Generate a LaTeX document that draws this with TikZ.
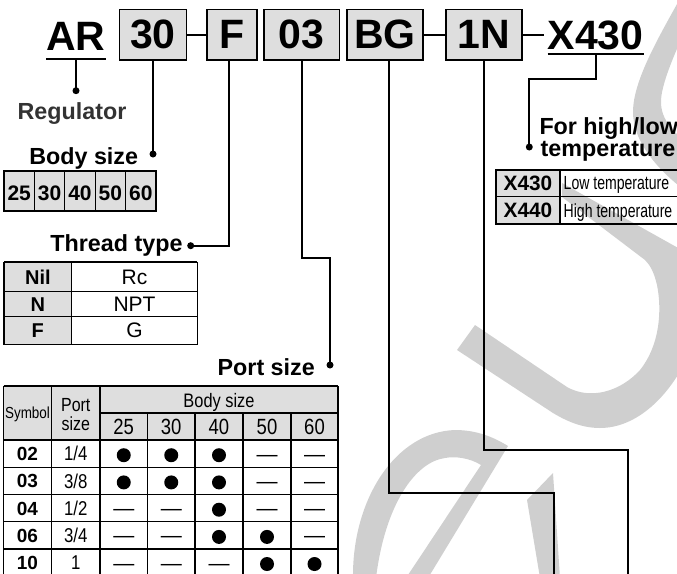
\documentclass[tikz,border=0pt]{standalone}
\usepackage{fontspec}
\setmainfont{Liberation Sans}
\newfontfamily\narrowfont[FakeStretch=0.84]{Liberation Sans}
\newfontfamily\tightfont[FakeStretch=0.74]{Liberation Sans}
\definecolor{boxgray}{gray}{0.87}
\definecolor{markgray}{gray}{0.81}
\definecolor{labelgray}{gray}{0.2}
\tikzset{
  lead/.style={line width=1.7pt},
  rule/.style={line width=1.1pt},
  toprule/.style={line width=2pt},
  wmark/.style={fill=markgray},
  codebox/.style={draw, line width=1.7pt, fill=boxgray, minimum height=50.5pt, inner sep=0pt, font=\bfseries\fontsize{41}{41}\selectfont},
  codetxt/.style={inner sep=0pt, font=\bfseries\fontsize{41}{41}\selectfont},
  head/.style={inner sep=0pt, font=\bfseries\fontsize{23.3}{24}\selectfont},
  numcell/.style={inner sep=0pt, text height=15pt, text depth=0pt, font=\bfseries\fontsize{21}{21}\selectfont},
  keycell/.style={inner sep=0pt, text height=14.3pt, text depth=0pt, font=\bfseries\fontsize{20}{20}\selectfont},
  valcell/.style={inner sep=0pt, text height=15pt, text depth=0pt, font=\fontsize{21}{21}\selectfont},
  symcell/.style={inner sep=0pt, text height=13.6pt, text depth=0pt, font=\bfseries\fontsize{19}{19}\selectfont},
  portcell/.style={inner sep=0pt, text height=14.3pt, text depth=0pt, font=\narrowfont\fontsize{20}{20}\selectfont},
  headcell/.style={inner sep=0pt, text height=14pt, text depth=0pt, font=\narrowfont\fontsize{19.5}{19}\selectfont},
  sizecell/.style={inner sep=0pt, text height=15.8pt, text depth=0pt, font=\narrowfont\fontsize{22}{22}\selectfont},
  tempkey/.style={inner sep=0pt, text height=14.9pt, text depth=0pt, font=\bfseries\fontsize{20.8}{21}\selectfont},
  tempcell/.style={inner sep=0pt, text height=13.6pt, text depth=0pt, font=\tightfont\fontsize{19}{19}\selectfont},
}
\begin{document}
\begin{tikzpicture}[x=1pt,y=-1pt]
                \useasboundingbox (0,0) rectangle (677,573);
                \clip (0,0) rectangle (677,573);
                % watermark
                \fill[wmark] (682,-5) .. controls (660,35) and (633,80) .. (633,112) .. controls (633,140) and (655,170) .. (695,198) -- (695,148) .. controls (675,135) and (660,120) .. (661,100) .. controls (662,80) and (680,40) .. (700,0) -- cycle;
                \fill[wmark] (562,183) -- (705,263) -- (700,320) .. controls (690,370) and (650,428) .. (600,428) .. controls (583,428) and (568,422) .. (553,413) -- (457,350) -- (475,325) -- (567,387) .. controls (590,400) and (620,392) .. (640,370) .. controls (660,345) and (662,310) .. (657,285) .. controls (654,272) and (650,265) .. (645,260) -- (562,197) -- cycle;
                \fill[wmark] (353,578) .. controls (352,500) and (395,432) .. (455,430) .. controls (478,430) and (495,438) .. (508,446) -- (428,578) -- (406,578) -- (481,465) .. controls (470,458) and (455,456) .. (445,458) .. controls (415,462) and (385,505) .. (376,578) -- cycle;
                \fill[wmark] (527,500) -- (553,473) -- (560,578) -- (540,578) -- cycle;
                % part number
                \node[codetxt, anchor=base] (ar) at (76,50.5) {AR};
                \node[codebox, minimum width=67pt] (b30) at (153,34.75) {30};
                \node[codebox, minimum width=50pt] (bF) at (232.3,34.75) {F};
                \node[codebox, minimum width=75.4pt] (b03) at (301.7,34.75) {03};
                \node[codebox, minimum width=76.6pt] (bBG) at (385,34.75) {BG};
                \node[codebox, minimum width=75.7pt] (b1N) at (483.9,34.75) {1N};
                \node[codetxt, anchor=base] (x430) at (595.7,49.5) {X430};
                \draw[lead] ([yshift=-8.3pt]ar.base west) -- ([yshift=-8.3pt]ar.base east);
                \draw[lead] ([yshift=-4.5pt]x430.base west) -- ([yshift=-4.5pt]x430.base east);
                \coordinate (arU) at ([yshift=-8.3pt]ar.base);
                \coordinate (x430U) at ([yshift=-4.5pt]x430.base);
                \coordinate (x430L) at (544,34.75);
                \draw[lead] (b30.east) -- (bF.west);
                \draw[lead] (bBG.east) -- (b1N.west);
                \draw[lead] (b1N.east) -- (x430L);
                % leaders
                \coordinate (dReg) at (76,90.7);
                \coordinate (dBody) at (153,154);
                \coordinate (dThread) at (190.7,245.7);
                \coordinate (kPort) at (330,258);
                \coordinate (dPort) at (330,365);
                \coordinate (kBG) at (554.3,492.7);
                \coordinate (eBG) at (554.3,585);
                \coordinate (k1N) at (628.3,450.3);
                \coordinate (e1N) at (628.3,585);
                \coordinate (kTemp) at (529.3,79);
                \coordinate (dTemp) at (529.3,147);
                \draw[lead] (arU) -- (dReg);
                \draw[lead] (b30.south) -- (dBody);
                \draw[lead] ([xshift=-3.6pt]bF.south) |- (dThread);
                \draw[lead] (b03.south) |- (kPort) -- (dPort);
                \draw[lead] ([xshift=4pt]bBG.south) |- (kBG) -- (eBG);
                \draw[lead] (b1N.south) |- (k1N) -- (e1N);
                \draw[lead] (x430U) |- (kTemp) -- (dTemp);
                \fill (dReg) circle (3.5pt);
                \fill (dBody) circle (3.5pt);
                \fill (dThread) circle (3.5pt);
                \fill (dPort) circle (3.5pt);
                \fill (dTemp) circle (3.5pt);
                % headings
                \node[head, anchor=base, text=labelgray] (tReg) at (72,119) {Regulator};
                \node[head, anchor=base east] (tBody) at (138.3,164.3) {Body size};
                \node[head, anchor=base east] (tThread) at (182.7,251.7) {Thread type};
                \node[head, anchor=base east] (tPort) at (315,375) {Port size};
                \node[head, anchor=base west] (tTempA) at (539.3,134.5) {For high/low};
                \node[head, anchor=base west] (tTempB) at (540.5,156) {temperature};
                % body size table
                \fill[boxgray] (4,170.7) rectangle (156,211);
                \draw[rule] (4,170.7) rectangle (156,211);
                \draw[rule] (34.4,170.7) -- (34.4,211);
                \draw[rule] (64.8,170.7) -- (64.8,211);
                \draw[rule] (95.2,170.7) -- (95.2,211);
                \draw[rule] (125.6,170.7) -- (125.6,211);
                \draw[toprule] (4,170.7) -- (156,170.7);
                \node[numcell] (bs25) at (19.2,192.5) {25};
                \node[numcell] (bs30) at (49.6,192.5) {30};
                \node[numcell] (bs40) at (80,192.5) {40};
                \node[numcell] (bs50) at (110.4,192.5) {50};
                \node[numcell] (bs60) at (140.8,192.5) {60};
                % thread type table
                \fill[boxgray] (4,262.3) rectangle (71.7,344.3);
                \draw[rule] (4,262.3) rectangle (197.3,344.3);
                \draw[rule] (71.7,262.3) -- (71.7,344.3);
                \draw[rule] (4,291.7) -- (197.3,291.7);
                \draw[rule] (4,316.5) -- (197.3,316.5);
                \draw[toprule] (4,262.3) -- (197.3,262.3);
                \node[keycell] (thNil) at (37.85,277) {Nil};
                \node[valcell] (thRc) at (134.5,277) {Rc};
                \node[keycell] (thN) at (37.85,304.1) {N};
                \node[valcell] (thNPT) at (134.5,304.1) {NPT};
                \node[keycell] (thF) at (37.85,330.4) {F};
                \node[valcell] (thG) at (134.5,330.4) {G};
                % port size table
                \fill[boxgray] (3.5,386) rectangle (338,440);
                \draw[rule] (3.5,386) -- (3.5,585);
                \draw[rule] (51.5,386) -- (51.5,585);
                \draw[rule] (100,386) -- (100,585);
                \draw[rule] (338,386) -- (338,585);
                \draw[rule] (100,413) -- (338,413);
                \draw[rule] (147.5,413) -- (147.5,585);
                \draw[rule] (195,413) -- (195,585);
                \draw[rule] (243,413) -- (243,585);
                \draw[rule] (291,413) -- (291,585);
                \draw[rule] (3.5,440) -- (338,440);
                \draw[rule] (3.5,467.3) -- (338,467.3);
                \draw[rule] (3.5,494.5) -- (338,494.5);
                \draw[rule] (3.5,521.8) -- (338,521.8);
                \draw[rule] (3.5,549) -- (338,549);
                \draw[toprule] (3.5,386) -- (338,386);
                \node[headcell, font=\narrowfont\fontsize{16}{16}\selectfont, text height=11.5pt] (hSym) at (27.5,413) {Symbol};
                \node[inner sep=0pt, align=center, font=\narrowfont\fontsize{19}{19}\selectfont] (hPort) at (75.75,414.5) {Port\\size};
                \node[headcell] (hBody) at (219,400.5) {Body size};
                \node[sizecell] (h25) at (123.75,426.5) {25};
                \node[sizecell] (h30) at (171.25,426.5) {30};
                \node[sizecell] (h40) at (219,426.5) {40};
                \node[sizecell] (h50) at (267,426.5) {50};
                \node[sizecell] (h60) at (314.5,426.5) {60};
                % row 02
                \node[symcell] (s02) at (27.5,453.7) {02};
                \node[portcell] (p02) at (75.75,453.7) {1/4};
                \fill (123.75,455.2) circle (7pt);
                \fill (171.25,455.2) circle (7pt);
                \fill (219,455.2) circle (7pt);
                \node[valcell] (m02a) at (267,453.7) {—};
                \node[valcell] (m02b) at (314.5,453.7) {—};
                % row 03
                \node[symcell] (s03) at (27.5,480.9) {03};
                \node[portcell] (p03) at (75.75,480.9) {3/8};
                \fill (123.75,482.4) circle (7pt);
                \fill (171.25,482.4) circle (7pt);
                \fill (219,482.4) circle (7pt);
                \node[valcell] (m03a) at (267,480.9) {—};
                \node[valcell] (m03b) at (314.5,480.9) {—};
                % row 04
                \node[symcell] (s04) at (27.5,508.2) {04};
                \node[portcell] (p04) at (75.75,508.2) {1/2};
                \node[valcell] (m04a) at (123.75,508.2) {—};
                \node[valcell] (m04b) at (171.25,508.2) {—};
                \fill (219,509.7) circle (7pt);
                \node[valcell] (m04c) at (267,508.2) {—};
                \node[valcell] (m04d) at (314.5,508.2) {—};
                % row 06
                \node[symcell] (s06) at (27.5,535.4) {06};
                \node[portcell] (p06) at (75.75,535.4) {3/4};
                \node[valcell] (m06a) at (123.75,535.4) {—};
                \node[valcell] (m06b) at (171.25,535.4) {—};
                \fill (219,536.9) circle (7pt);
                \fill (267,536.9) circle (7pt);
                \node[valcell] (m06c) at (314.5,535.4) {—};
                % row 10
                \node[symcell] (s10) at (27.5,562.5) {10};
                \node[portcell] (p10) at (75.75,562.5) {1};
                \node[valcell] (m10a) at (123.75,562.5) {—};
                \node[valcell] (m10b) at (171.25,562.5) {—};
                \node[valcell] (m10c) at (219,562.5) {—};
                \fill (267,564) circle (7pt);
                \fill (314.5,564) circle (7pt);
                % temperature table
                \fill[boxgray] (496,169.5) rectangle (560,224);
                \draw[rule] (496,169.5) rectangle (700,224);
                \draw[rule] (560,169.5) -- (560,224);
                \draw[rule] (496,196.7) -- (700,196.7);
                \draw[toprule] (496,169.5) -- (700,169.5);
                \node[tempkey] (k430) at (528,183.1) {X430};
                \node[tempcell, anchor=west] (v430) at (563.5,183.1) {Low temperature};
                \node[tempkey] (k440) at (528,210.35) {X440};
                \node[tempcell, anchor=west] (v440) at (563.5,210.35) {High temperature};
\end{tikzpicture}
\end{document}
